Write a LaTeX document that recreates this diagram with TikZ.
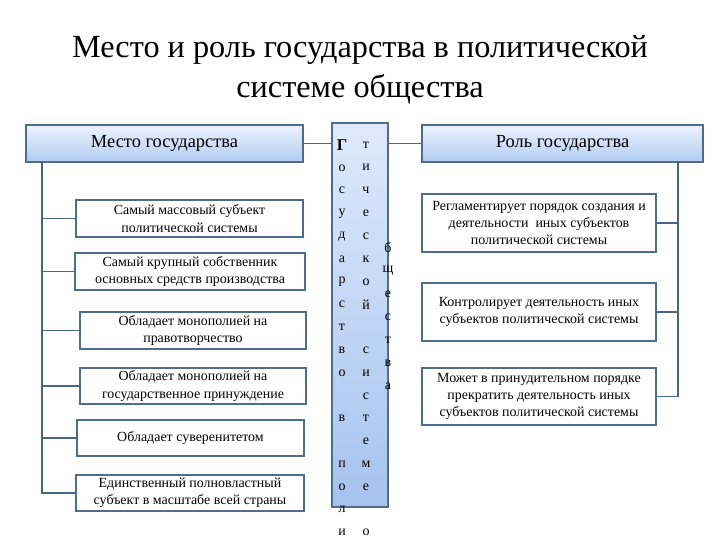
\documentclass[tikz,border=0pt]{standalone}
\usepackage{fontspec}
\setmainfont{Liberation Serif}
\definecolor{bordc}{RGB}{79,108,142}
\definecolor{linec}{RGB}{74,101,132}
\definecolor{hdtop}{RGB}{236,243,253}
\definecolor{hdbot}{RGB}{178,203,242}
\definecolor{coltop}{RGB}{222,233,251}
\definecolor{colbot}{RGB}{166,195,238}
\tikzset{
  hdr/.style={draw=bordc, line width=1.6bp, top color=hdtop, bottom color=hdbot, minimum height=37bp, inner sep=0pt, font=\fontsize{18.5}{20}\selectfont},
  item/.style={draw=bordc, line width=1.6bp, fill=white, inner sep=0pt, align=center, font=\fontsize{14}{17.5}\selectfont},
  conn/.style={draw=linec, line width=1.6bp},
  lett/.style={font=\fontsize{14}{16}\selectfont, inner sep=0pt}
}
\begin{document}
\begin{tikzpicture}[x=1bp,y=-1bp]
\useasboundingbox (0,0) rectangle (720,540);
% title
\node[font=\fontsize{32.4}{40}\selectfont, align=center] (title) at (360,70) {Место и роль государства в политической\\системе общества};
% headers
\node[hdr, minimum width=277bp] (lh) at (164.5,143.5) {Место государства};
\node[hdr, minimum width=281bp] (rh) at (562.5,143.5) {Роль государства};
\node[draw=bordc, line width=1.6bp, top color=coltop, bottom color=colbot, minimum width=56bp, minimum height=384bp, inner sep=0pt] (col) at (360,315) {};
\draw[conn] (lh.east) -- (lh.east -| col.west);
\draw[conn] (rh.west -| col.east) -- (rh.west);
% left items
\node[item, minimum width=227bp, minimum height=37bp] (l1) at (189.5,218.5) {Самый массовый субъект\\политической системы};
\node[item, minimum width=230bp, minimum height=37bp] (l2) at (190,271.5) {Самый крупный собственник\\основных средств производства};
\node[item, minimum width=226bp, minimum height=37bp] (l3) at (193,330.5) {Обладает монополией на\\правотворчество};
\node[item, minimum width=226bp, minimum height=36bp] (l4) at (193,386) {Обладает монополией на\\государственное принуждение};
\node[item, minimum width=227bp, minimum height=36bp] (l5) at (190.5,438) {Обладает суверенитетом};
\node[item, minimum width=228bp, minimum height=36bp] (l6) at (190,493) {Единственный полновластный\\субъект в масштабе всей страны};
\coordinate (ltop) at (42,162);
\draw[conn] (ltop) |- (l6.west);
\foreach \n in {l1,l2,l3,l4,l5}{\draw[conn] (ltop |- \n.west) -- (\n.west);}
% right items
\node[item, minimum width=234bp, minimum height=58bp] (r1) at (539,223) {Регламентирует порядок создания и\\деятельности \ иных субъектов\\политической системы};
\node[item, minimum width=234bp, minimum height=58bp] (r2) at (539,312) {Контролирует деятельность иных\\субъектов политической системы};
\node[item, minimum width=234bp, minimum height=57bp] (r3) at (539,396.5) {Может в принудительном порядке\\прекратить деятельность иных\\субъектов политической системы};
\coordinate (rtop) at (678,162);
\draw[conn] (rtop) |- (r3.east);
\foreach \n in {r1,r2}{\draw[conn] (rtop |- \n.east) -- (\n.east);}
% column letters
\node[font=\bfseries\fontsize{16.5}{18}\selectfont, inner sep=0pt] (a0) at (342,145) {Г};
\foreach \l [count=\i from 1] in {о,с,у,д,а,р,с,т,в,о,{},в,{},п,о,л,и}
  {\node[lett] (a\i) at (342,145+22.8*\i) {\l};}
\foreach \l [count=\i from 0] in {т,и,ч,е,с,к,о,й,{},с,и,с,т,е,м,е,{},о}
  {\node[lett] (b\i) at (366,145+22.8*\i) {\l};}
\foreach \l [count=\i from 0] in {б,щ,е,с,т,в,а}
  {\node[lett] (c\i) at (388,248+23*\i) {\l};}
\end{tikzpicture}
\end{document}
